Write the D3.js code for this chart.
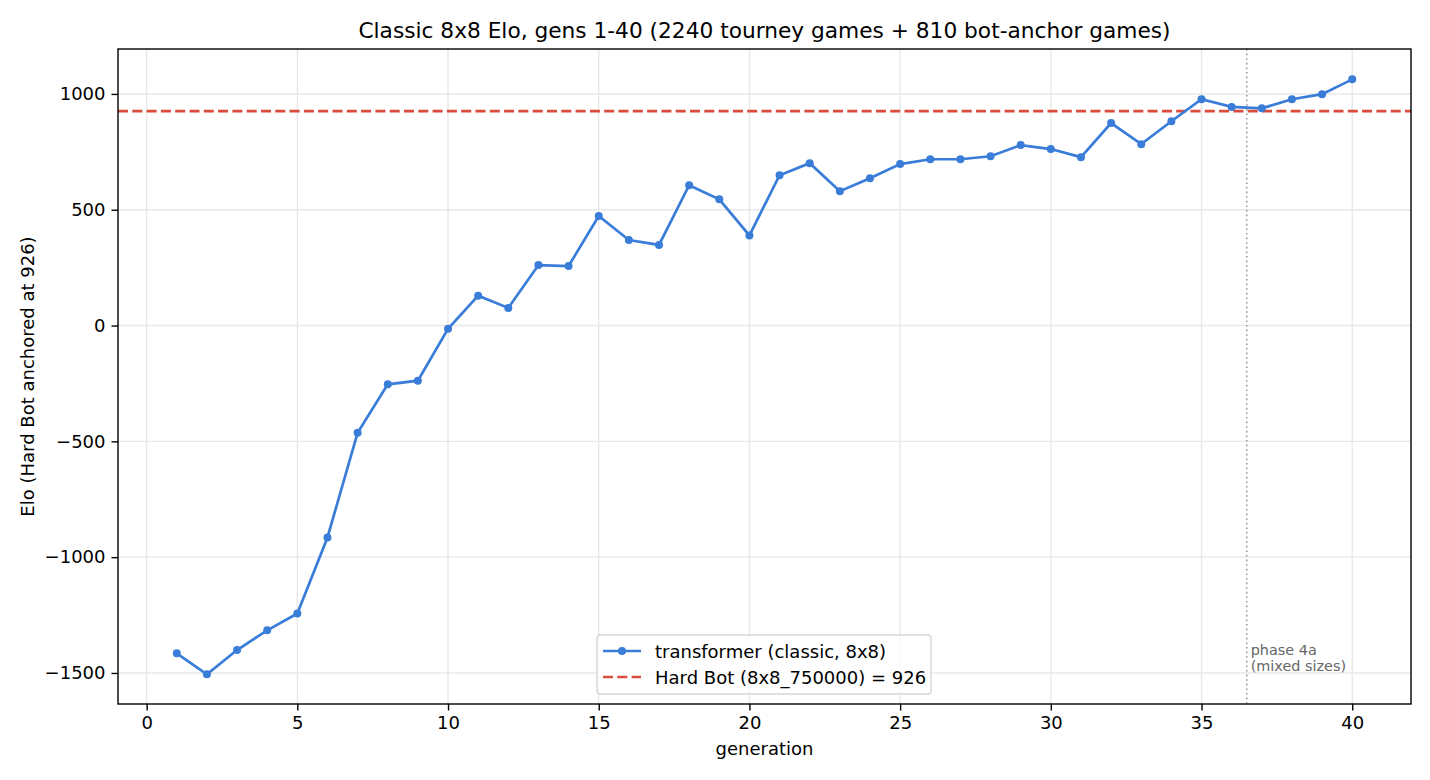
<!DOCTYPE html>
<html>
<head>
<meta charset="utf-8">
<script src="https://cdn.jsdelivr.net/npm/d3@7"></script>
<style>
  body { margin: 0; background: #fff; }
  svg { font-family: "DejaVu Sans", sans-serif; }
</style>
</head>
<body>
<div id="chart"></div>
<script>
// data
var generations = d3.range(1, 41);
var eloValues = [
  -1415, -1506, -1401, -1316, -1243, -915, -463, -254, -238, -14,
  129, 76, 261, 257, 473, 369, 348, 606, 545, 389,
  649, 701, 580, 636, 697, 718, 718, 731, 779, 762,
  727, 874, 783, 882, 977, 944, 938, 977, 999, 1063
];
var hardBotElo = 926;
var phaseMarker = 36.5;
var xTicks = [0, 5, 10, 15, 20, 25, 30, 35, 40];
var yTicks = [-1500, -1000, -500, 0, 500, 1000];

var svgWidth = 1430;
var svgHeight = 780;
var margin = { top: 49, right: 19, bottom: 76, left: 118 };
var width = svgWidth - margin.left - margin.right;
var height = svgHeight - margin.top - margin.bottom;

var blue = "#3a7dd9";
var red = "#db4b3b";

var svg = d3.select("#chart")
  .append("svg")
  .attr("width", svgWidth)
  .attr("height", svgHeight);

var chartGroup = svg.append("g")
  .attr("transform", `translate(${margin.left}, ${margin.top})`);

var xScale = d3.scaleLinear()
  .domain([-0.95, 41.95])
  .range([0, width]);

var yScale = d3.scaleLinear()
  .domain([-1634, 1194])
  .range([height, 0]);

var fmt = function(d) { return d < 0 ? "\u2212" + Math.abs(d) : String(d); };

// grid
chartGroup.append("g")
  .selectAll("line")
  .data(xTicks)
  .enter()
  .append("line")
  .attr("x1", d => xScale(d))
  .attr("x2", d => xScale(d))
  .attr("y1", 0)
  .attr("y2", height)
  .attr("stroke", "#e8e8e8")
  .attr("stroke-width", 1.4);

chartGroup.append("g")
  .selectAll("line")
  .data(yTicks)
  .enter()
  .append("line")
  .attr("x1", 0)
  .attr("x2", width)
  .attr("y1", d => yScale(d))
  .attr("y2", d => yScale(d))
  .attr("stroke", "#e8e8e8")
  .attr("stroke-width", 1.4);

// axes
var bottomAxis = d3.axisBottom(xScale).tickValues(xTicks).tickSize(6.5).tickPadding(6).tickFormat(fmt);
var leftAxis = d3.axisLeft(yScale).tickValues(yTicks).tickSize(6.5).tickPadding(6).tickFormat(fmt);

var xAxisG = chartGroup.append("g")
  .attr("transform", `translate(0, ${height})`)
  .call(bottomAxis);
var yAxisG = chartGroup.append("g")
  .call(leftAxis);

[xAxisG, yAxisG].forEach(function(g) {
  g.select(".domain").remove();
  g.selectAll("text")
    .attr("font-size", "18px")
    .attr("font-family", "DejaVu Sans, sans-serif")
    .attr("fill", "#000");
  g.selectAll(".tick line").attr("stroke", "#000").attr("stroke-width", 1.4);
});

// hard bot reference line
chartGroup.append("line")
  .attr("x1", 0)
  .attr("x2", width)
  .attr("y1", yScale(hardBotElo))
  .attr("y2", yScale(hardBotElo))
  .attr("stroke", red)
  .attr("stroke-width", 2.7)
  .attr("stroke-dasharray", "10,4.3");

// phase marker
chartGroup.append("line")
  .attr("x1", xScale(phaseMarker))
  .attr("x2", xScale(phaseMarker))
  .attr("y1", 0)
  .attr("y2", height)
  .attr("stroke", "#999")
  .attr("stroke-width", 1.6)
  .attr("stroke-dasharray", "1.6,3");

chartGroup.append("text")
  .attr("x", xScale(phaseMarker) + 4)
  .attr("y", yScale(-1500) - 18)
  .attr("font-size", "14.4px")
  .attr("fill", "#666")
  .text("phase 4a");
chartGroup.append("text")
  .attr("x", xScale(phaseMarker) + 4)
  .attr("y", yScale(-1500) - 2)
  .attr("font-size", "14.4px")
  .attr("fill", "#666")
  .text("(mixed sizes)");

// elo line
var line = d3.line()
  .x((d, i) => xScale(generations[i]))
  .y(d => yScale(d));

chartGroup.append("path")
  .datum(eloValues)
  .attr("d", line)
  .attr("fill", "none")
  .attr("stroke", blue)
  .attr("stroke-width", 2.7);

chartGroup.selectAll("circle.pt")
  .data(eloValues)
  .enter()
  .append("circle")
  .attr("class", "pt")
  .attr("cx", (d, i) => xScale(generations[i]))
  .attr("cy", d => yScale(d))
  .attr("r", 4)
  .attr("fill", blue);

// frame
chartGroup.append("rect")
  .attr("x", 0)
  .attr("y", 0)
  .attr("width", width)
  .attr("height", height)
  .attr("fill", "none")
  .attr("stroke", "#000")
  .attr("stroke-width", 1.4);

// title and axis labels
svg.append("text")
  .attr("x", margin.left + width / 2)
  .attr("y", 38)
  .attr("text-anchor", "middle")
  .attr("font-size", "21.7px")
  .text("Classic 8x8 Elo, gens 1-40 (2240 tourney games + 810 bot-anchor games)");

svg.append("text")
  .attr("x", margin.left + width / 2)
  .attr("y", 755)
  .attr("text-anchor", "middle")
  .attr("font-size", "18px")
  .text("generation");

svg.append("text")
  .attr("transform", "rotate(-90)")
  .attr("x", -(margin.top + height / 2))
  .attr("y", 34)
  .attr("text-anchor", "middle")
  .attr("font-size", "18px")
  .text("Elo (Hard Bot anchored at 926)");

// legend
var legend = svg.append("g")
  .attr("transform", "translate(597, 635)");

legend.append("rect")
  .attr("width", 334)
  .attr("height", 59)
  .attr("rx", 3)
  .attr("fill", "#fff")
  .attr("fill-opacity", 0.8)
  .attr("stroke", "#d6d6d6")
  .attr("stroke-width", 1.4);

legend.append("line")
  .attr("x1", 6).attr("x2", 44)
  .attr("y1", 16).attr("y2", 16)
  .attr("stroke", blue).attr("stroke-width", 2.7);
legend.append("circle")
  .attr("cx", 25).attr("cy", 16).attr("r", 4)
  .attr("fill", blue);
legend.append("text")
  .attr("x", 58).attr("y", 22.5)
  .attr("font-size", "18px")
  .text("transformer (classic, 8x8)");

legend.append("line")
  .attr("x1", 6).attr("x2", 44)
  .attr("y1", 42).attr("y2", 42)
  .attr("stroke", red).attr("stroke-width", 2.7)
  .attr("stroke-dasharray", "10,4.3");
legend.append("text")
  .attr("x", 58).attr("y", 48.5)
  .attr("font-size", "18px")
  .text("Hard Bot (8x8_750000) = 926");
</script>
</body>
</html>
